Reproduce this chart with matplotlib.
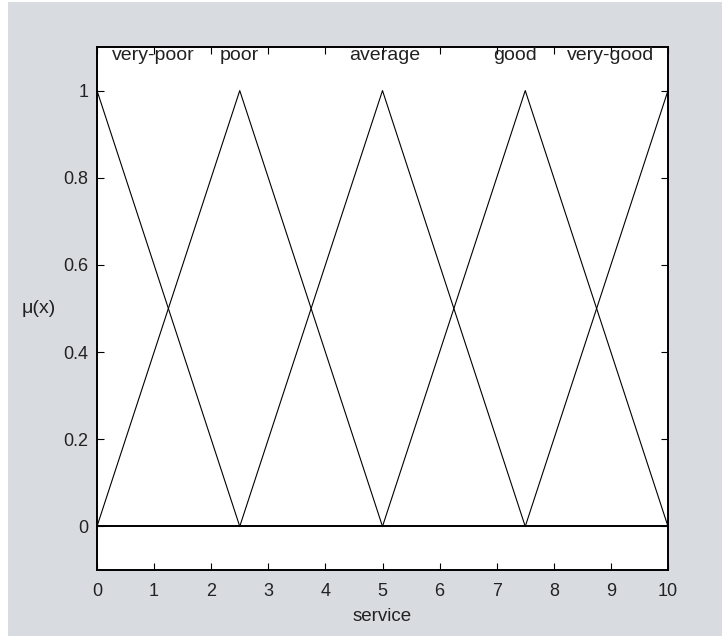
import matplotlib
matplotlib.use("Agg")
import matplotlib.pyplot as plt
from matplotlib.patches import Rectangle

plt.rcParams["font.family"] = ["Liberation Sans", "DejaVu Sans"]

# membership functions for "service" (triangles: left foot, peak, right foot)
names = ["very-poor", "poor", "average", "good", "very-good"]
feet_left = [0.0, 0.0, 2.5, 5.0, 7.5]
peaks = [0.0, 2.5, 5.0, 7.5, 10.0]
feet_right = [2.5, 5.0, 7.5, 10.0, 10.0]
label_x = [0.98, 2.5, 5.03, 7.32, 9.0]
label_y = 1.08

xticks = list(range(0, 11))
yticks = [0, 0.2, 0.4, 0.6, 0.8, 1]
ytick_labels = ["0", "0.2", "0.4", "0.6", "0.8", "1"]

bg = "#d8dce1"
txt = "#222222"
fig = plt.figure(figsize=(7.22, 6.36), dpi=100, facecolor="white")
fig.patches.append(Rectangle((8 / 722, 0), 1, 1 - 2 / 636, transform=fig.transFigure,
                             facecolor=bg, edgecolor="none", zorder=-10))
ax = fig.add_axes([97 / 722, 66 / 636, 571 / 722, 523 / 636])
ax.set_facecolor("white")

for a, b, c in zip(feet_left, peaks, feet_right):
    xs, ys = [], []
    if a < b:
        xs += [a, b]
        ys += [0, 1]
    else:
        xs += [b]
        ys += [1]
    if c > b:
        xs += [c]
        ys += [0]
    ax.plot(xs, ys, color="black", lw=0.8)

ax.plot([0, 10], [0, 0], color="black", lw=1.4)

for name, lx in zip(names, label_x):
    ax.text(lx, label_y, name, ha="center", va="center", fontsize=14, color=txt)

ax.set_xlim(0, 10)
ax.set_ylim(-0.1, 1.1)
ax.set_xticks(xticks)
ax.set_yticks(yticks)
ax.set_yticklabels(ytick_labels)
ax.tick_params(direction="in", top=True, right=True, length=5, width=0.8,
               labelsize=13, labelcolor=txt)
ax.tick_params(axis="x", pad=9)
ax.tick_params(axis="y", pad=6)
for s in ax.spines.values():
    s.set_linewidth(1.4)
ax.set_xlabel("service", fontsize=13.5, color=txt, labelpad=6)
ax.set_ylabel("\u03bc(x)", fontsize=14, color=txt, rotation=0, labelpad=18, va="center")

fig.savefig("out.png", dpi=100, facecolor=fig.get_facecolor())
